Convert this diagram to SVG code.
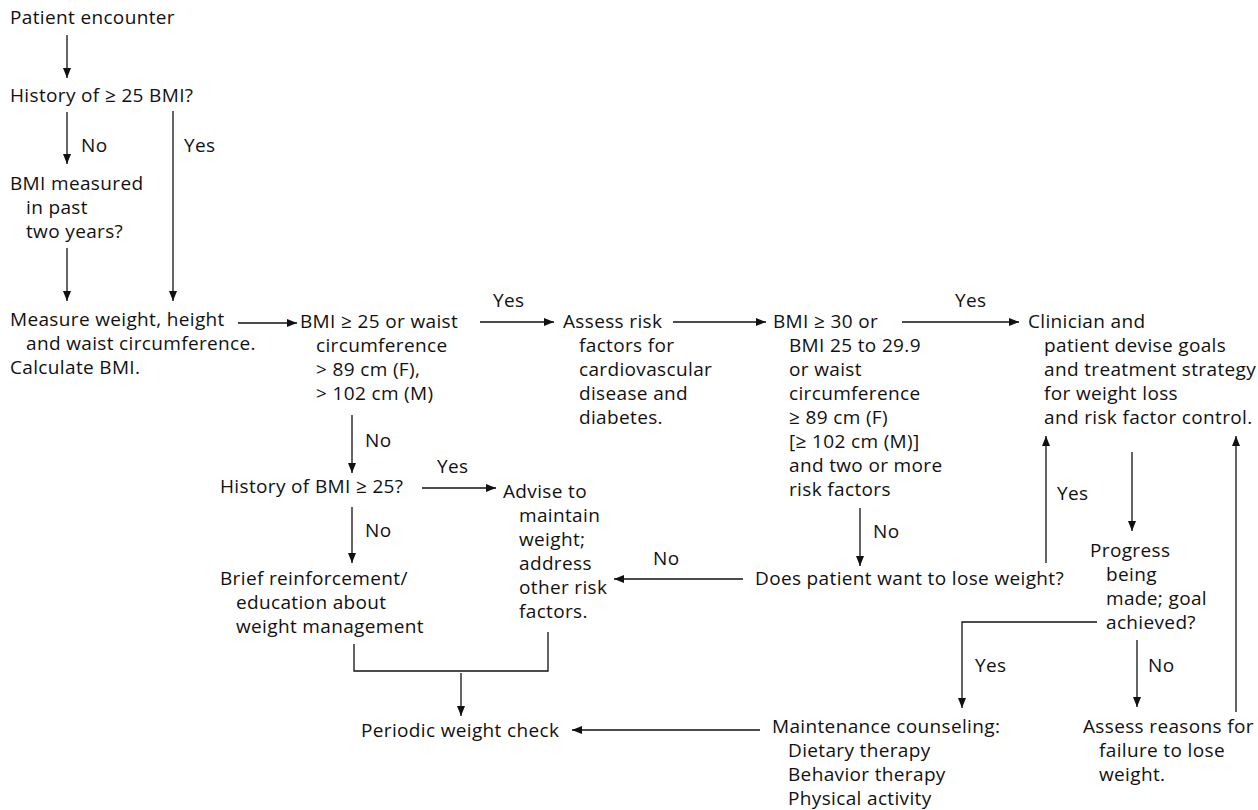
<svg xmlns="http://www.w3.org/2000/svg" width="1258" height="810" viewBox="0 0 1258 810">
<style>
text{font-family:"Open Sans","Noto Sans","Liberation Sans",sans-serif;font-size:19px;letter-spacing:0.35px;fill:#111}
.c line,.c path{stroke:#111;stroke-width:1.3;fill:none}
</style>
<defs>
<marker id="ah" viewBox="0 0 10 10" refX="10" refY="5" markerWidth="10" markerHeight="10" markerUnits="userSpaceOnUse" orient="auto">
<path d="M0,1 L10,5 L0,9 z" fill="#111"/>
</marker>
</defs>
<rect width="1258" height="810" fill="#fff"/>
<g id="n1"><text x="10" y="24">Patient encounter</text></g>
<g id="n2"><text x="10" y="102">History of ≥ 25 BMI?</text></g>
<g id="n3"><text x="10" y="190">BMI measured</text><text x="26" y="214">in past</text><text x="26" y="238">two years?</text></g>
<g id="n4"><text x="10" y="326">Measure weight, height</text><text x="26" y="350">and waist circumference.</text><text x="10" y="374">Calculate BMI.</text></g>
<g id="n5"><text x="300" y="328">BMI ≥ 25 or waist</text><text x="316" y="352">circumference</text><text x="316" y="376">&gt; 89 cm (F),</text><text x="316" y="400">&gt; 102 cm (M)</text></g>
<g id="n6"><text x="563" y="328">Assess risk</text><text x="579" y="352">factors for</text><text x="579" y="376">cardiovascular</text><text x="579" y="400">disease and</text><text x="579" y="424">diabetes.</text></g>
<g id="n7"><text x="773" y="328">BMI ≥ 30 or</text><text x="789" y="352">BMI 25 to 29.9</text><text x="789" y="376">or waist</text><text x="789" y="400">circumference</text><text x="789" y="424">≥ 89 cm (F)</text><text x="789" y="448">[≥ 102 cm (M)]</text><text x="789" y="472">and two or more</text><text x="789" y="496">risk factors</text></g>
<g id="n8"><text x="1028" y="328">Clinician and</text><text x="1044" y="352">patient devise goals</text><text x="1044" y="376">and treatment strategy</text><text x="1044" y="400">for weight loss</text><text x="1044" y="424">and risk factor control.</text></g>
<g id="n9"><text x="220" y="493">History of BMI ≥ 25?</text></g>
<g id="n10"><text x="503" y="498">Advise to</text><text x="519" y="522">maintain</text><text x="519" y="546">weight;</text><text x="519" y="570">address</text><text x="519" y="594">other risk</text><text x="519" y="618">factors.</text></g>
<g id="n11"><text x="220" y="585">Brief reinforcement/</text><text x="236" y="609">education about</text><text x="236" y="633">weight management</text></g>
<g id="n12"><text x="755" y="585">Does patient want to lose weight?</text></g>
<g id="n13"><text x="1090" y="557">Progress</text><text x="1106" y="581">being</text><text x="1106" y="605">made; goal</text><text x="1106" y="629">achieved?</text></g>
<g id="n14"><text x="361" y="737">Periodic weight check</text></g>
<g id="n15"><text x="772" y="733">Maintenance counseling:</text><text x="788" y="757">Dietary therapy</text><text x="788" y="781">Behavior therapy</text><text x="788" y="805">Physical activity</text></g>
<g id="n16"><text x="1083" y="733">Assess reasons for</text><text x="1099" y="757">failure to lose</text><text x="1099" y="781">weight.</text></g>
<g id="connectors" class="c">
<line x1="67" y1="35" x2="67" y2="78" marker-end="url(#ah)"/>
<line x1="67" y1="112" x2="67" y2="164" marker-end="url(#ah)"/>
<line x1="173" y1="111" x2="173" y2="301" marker-end="url(#ah)"/>
<line x1="67" y1="248" x2="67" y2="301" marker-end="url(#ah)"/>
<line x1="238" y1="323" x2="297" y2="323" marker-end="url(#ah)"/>
<line x1="480" y1="322" x2="554" y2="322" marker-end="url(#ah)"/>
<line x1="673" y1="322" x2="766" y2="322" marker-end="url(#ah)"/>
<line x1="902" y1="322" x2="1019" y2="322" marker-end="url(#ah)"/>
<line x1="352" y1="415" x2="352" y2="473" marker-end="url(#ah)"/>
<line x1="422" y1="488" x2="496" y2="488" marker-end="url(#ah)"/>
<line x1="352" y1="507" x2="352" y2="563" marker-end="url(#ah)"/>
<line x1="860" y1="508" x2="860" y2="566" marker-end="url(#ah)"/>
<line x1="743" y1="579" x2="614" y2="579" marker-end="url(#ah)"/>
<line x1="1046" y1="563" x2="1046" y2="436" marker-end="url(#ah)"/>
<line x1="1132" y1="452" x2="1132" y2="531" marker-end="url(#ah)"/>
<path d="M1097,622 H962 V708" marker-end="url(#ah)"/>
<line x1="1137" y1="640" x2="1137" y2="707" marker-end="url(#ah)"/>
<line x1="1236" y1="712" x2="1236" y2="436" marker-end="url(#ah)"/>
<line x1="760" y1="730" x2="572" y2="730" marker-end="url(#ah)"/>
<path d="M354,644 V671 H548 V632"/>
<line x1="461" y1="673" x2="461" y2="716" marker-end="url(#ah)"/>
</g>
<g id="labels">
<text x="81" y="152">No</text>
<text x="184" y="152">Yes</text>
<text x="493" y="307">Yes</text>
<text x="955" y="307">Yes</text>
<text x="365" y="447">No</text>
<text x="437" y="473">Yes</text>
<text x="365" y="537">No</text>
<text x="873" y="538">No</text>
<text x="653" y="565">No</text>
<text x="1057" y="500">Yes</text>
<text x="975" y="672">Yes</text>
<text x="1148" y="672">No</text>
</g>
</svg>
